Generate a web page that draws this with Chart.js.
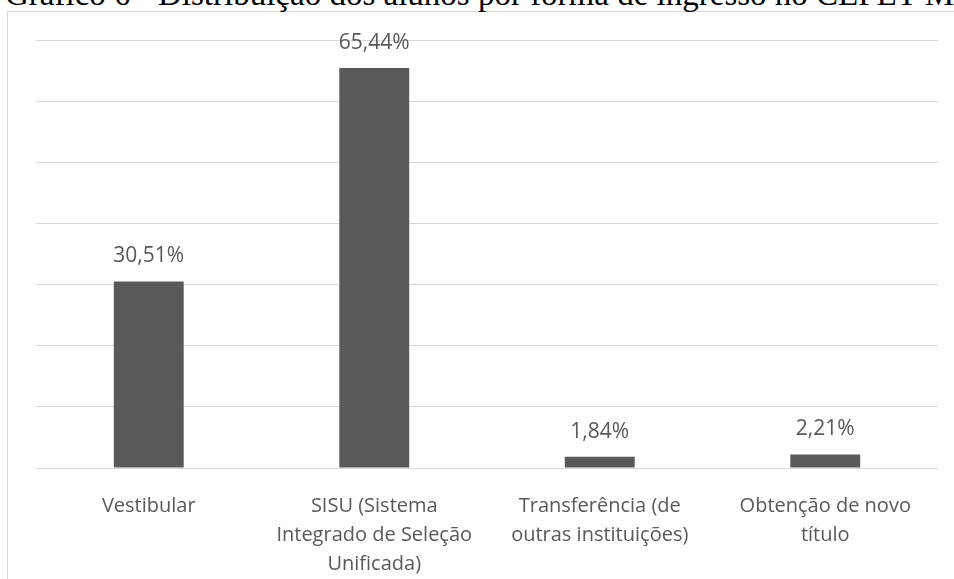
<!DOCTYPE html>
<html lang="pt-BR">
<head>
    <meta charset="UTF-8">
    <title>Gráfico 6</title>
    <script src="https://cdn.jsdelivr.net/npm/chart.js"></script>
    <style>
        html, body { margin: 0; padding: 0; background: #fff; overflow: hidden; }
        #page { position: relative; width: 954px; height: 579px; overflow: hidden; }
        #frame { position: absolute; left: 7px; top: 11px; width: 1000px; height: 600px;
                 border-left: 1px solid #d9d9d9; border-top: 1px solid #d9d9d9; }
        #title { position: absolute; left: 5px; top: -22px; white-space: nowrap; line-height: 1;
                 font-family: "Liberation Serif", "Times New Roman", serif; font-size: 33px; color: #000; }
        #chartBox { position: absolute; left: 0; top: 0; width: 954px; height: 579px; }
    </style>
</head>
<body>
    <div id="page">
        <div id="frame"></div>
        <div id="title">Gráfico 6 - Distribuição dos alunos por forma de ingresso no CEFET-MG</div>
        <div id="chartBox"><canvas id="grafico"></canvas></div>
    </div>

    <script>
        // dados
        const categorias = [
            "Vestibular",
            ["SISU (Sistema", "Integrado de Seleção", "Unificada)"],
            ["Transferência (de", "outras instituições)"],
            ["Obtenção de novo", "título"]
        ];
        const percentuais = [30.51, 65.44, 1.84, 2.21];

        const fonte = '"Open Sans", sans-serif';
        const corTexto = "#595959";

        // rótulos de valor acima das barras
        const rotulos = {
            id: "rotulos",
            afterDatasetsDraw(chart) {
                const ctx = chart.ctx;
                const meta = chart.getDatasetMeta(0);
                ctx.save();
                ctx.font = "21px " + fonte;
                ctx.fillStyle = corTexto;
                ctx.textAlign = "center";
                ctx.textBaseline = "middle";
                meta.data.forEach((bar, i) => {
                    const txt = percentuais[i].toFixed(2).replace(".", ",") + "%";
                    ctx.fillText(txt, bar.x, bar.y - 25);
                });
                ctx.restore();
            }
        };

        new Chart(document.getElementById("grafico"), {
            type: "bar",
            data: {
                labels: categorias,
                datasets: [{
                    data: percentuais,
                    backgroundColor: "#595959",
                    barPercentage: 0.62,
                    categoryPercentage: 0.5
                }]
            },
            options: {
                responsive: true,
                maintainAspectRatio: false,
                animation: false,
                layout: { padding: { left: 36, right: 16, top: 40, bottom: 0 } },
                plugins: { legend: { display: false }, tooltip: { enabled: false } },
                scales: {
                    x: {
                        grid: { display: false },
                        border: { display: false },
                        ticks: { color: corTexto, font: { family: fonte, size: 20, lineHeight: 1.45 }, padding: 16, maxRotation: 0, autoSkip: false },
                        afterFit(s) { s.height = 111; }
                    },
                    y: {
                        min: 0, max: 70,
                        ticks: { display: false, stepSize: 10 },
                        grid: { color: "#d9d9d9", lineWidth: 1, drawTicks: false },
                        border: { display: false },
                        afterFit(s) { s.width = 0; }
                    }
                }
            },
            plugins: [rotulos]
        });
    </script>
</body>
</html>
